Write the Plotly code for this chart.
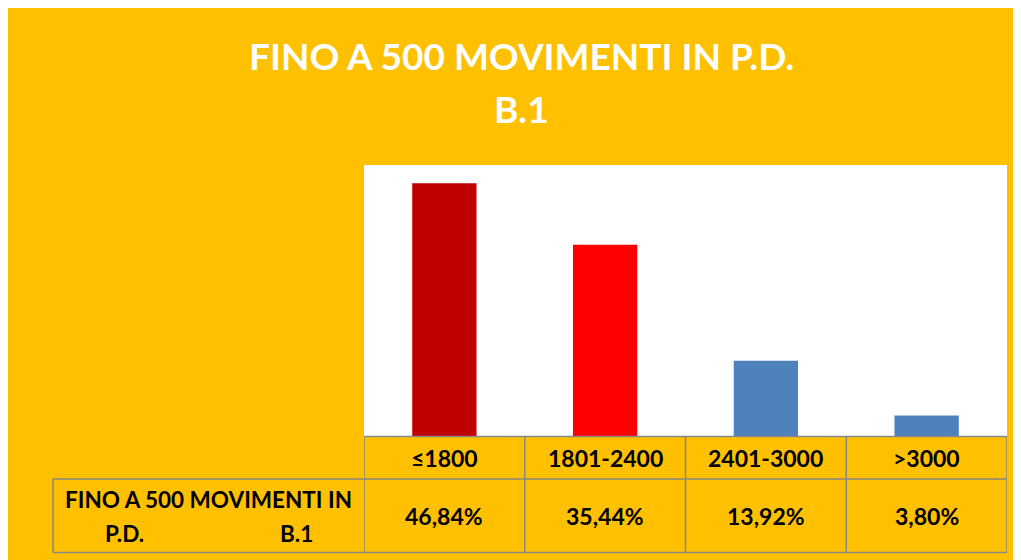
import plotly.graph_objects as go

categories = ["≤1800", "1801-2400", "2401-3000", ">3000"]
values = [46.84, 35.44, 13.92, 3.80]
bar_colors = ["#C00000", "#FF0000", "#4F81BD", "#4F81BD"]
title_lines = ["FINO A 500 MOVIMENTI IN P.D.", "B.1"]
row_label_line1 = "FINO A 500 MOVIMENTI IN"
row_label_line2a = "P.D."
row_label_line2b = "B.1"

W, H = 1021, 560
OFF = 8  # page body margin: reference pixel = figure pixel + 8
L, R, T, B = 364 - OFF, 1007 - OFF, 165 - OFF, 436 - OFF  # plot area in figure pixels
pw, ph = R - L, B - T


def xp(px):
    """reference screen x pixel -> paper coord"""
    return (px - OFF - L) / pw


def yp(py):
    """reference screen y pixel -> paper coord"""
    return 1 - (py - OFF - T) / ph


ORANGE = "#FFC000"
GRID = "#878787"
FONT = "Lato"

fig = go.Figure()
fig.add_trace(go.Bar(
    x=categories, y=values, marker=dict(color=bar_colors, line=dict(width=0)),
    hoverinfo="skip", showlegend=False,
))

shapes = []
row1_top, row_mid, row2_bot = 436.5, 479, 552.5
line = dict(color=GRID, width=1.5)
# horizontal table lines
shapes.append(dict(type="line", xref="paper", yref="paper", x0=0, x1=1, y0=yp(row1_top), y1=yp(row1_top), line=line))
shapes.append(dict(type="line", xref="paper", yref="paper", x0=xp(53), x1=1, y0=yp(row_mid), y1=yp(row_mid), line=line))
shapes.append(dict(type="line", xref="paper", yref="paper", x0=xp(53), x1=1, y0=yp(row2_bot), y1=yp(row2_bot), line=line))
# vertical table lines
for i in range(len(categories) + 1):
    shapes.append(dict(type="line", xref="x", yref="paper", x0=i - 0.5, x1=i - 0.5,
                       y0=yp(row1_top), y1=yp(row2_bot), line=line))
shapes.append(dict(type="line", xref="paper", yref="paper", x0=xp(53), x1=xp(53),
                   y0=yp(row_mid), y1=yp(row2_bot), line=line))

annotations = []
annotations.append(dict(text="<b>" + title_lines[0] + "</b>", xref="paper", yref="paper",
                        x=xp(521), y=yp(56), xanchor="center", yanchor="middle", showarrow=False,
                        font=dict(family=FONT, size=37, color="white")))
annotations.append(dict(text="<b>" + title_lines[1] + "</b>", xref="paper", yref="paper",
                        x=xp(521), y=yp(108), xanchor="center", yanchor="middle", showarrow=False,
                        font=dict(family=FONT, size=37, color="white")))
for c, v in zip(categories, values):
    annotations.append(dict(text="<b>" + c + "</b>", xref="x", yref="paper", x=c, y=yp(458),
                            xanchor="center", yanchor="middle", showarrow=False,
                            font=dict(family=FONT, size=23, color="black")))
    lbl = ("%.2f" % v).replace(".", ",") + "%"
    annotations.append(dict(text="<b>" + lbl + "</b>", xref="x", yref="paper", x=c, y=yp(516),
                            xanchor="center", yanchor="middle", showarrow=False,
                            font=dict(family=FONT, size=23, color="black")))
annotations.append(dict(text="<b>" + row_label_line1 + "</b>", xref="paper", yref="paper",
                        x=xp(208), y=yp(499), xanchor="center", yanchor="middle", showarrow=False,
                        font=dict(family=FONT, size=22.5, color="black")))
annotations.append(dict(text="<b>" + row_label_line2a + "</b>", xref="paper", yref="paper",
                        x=xp(124), y=yp(533), xanchor="center", yanchor="middle", showarrow=False,
                        font=dict(family=FONT, size=22.5, color="black")))
annotations.append(dict(text="<b>" + row_label_line2b + "</b>", xref="paper", yref="paper",
                        x=xp(296), y=yp(533), xanchor="center", yanchor="middle", showarrow=False,
                        font=dict(family=FONT, size=22.5, color="black")))

fig.update_layout(
    width=W, height=H,
    margin=dict(l=L, r=W - R, t=T, b=H - B, pad=0),
    paper_bgcolor=ORANGE, plot_bgcolor="white",
    bargap=0.6,
    xaxis=dict(visible=False, range=[-0.5, 3.5], type="category", fixedrange=True),
    yaxis=dict(visible=False, range=[0, 50.2], fixedrange=True),
    shapes=shapes, annotations=annotations,
    font=dict(family=FONT),
)

fig.write_html("out.html", config={"displayModeBar": False})
